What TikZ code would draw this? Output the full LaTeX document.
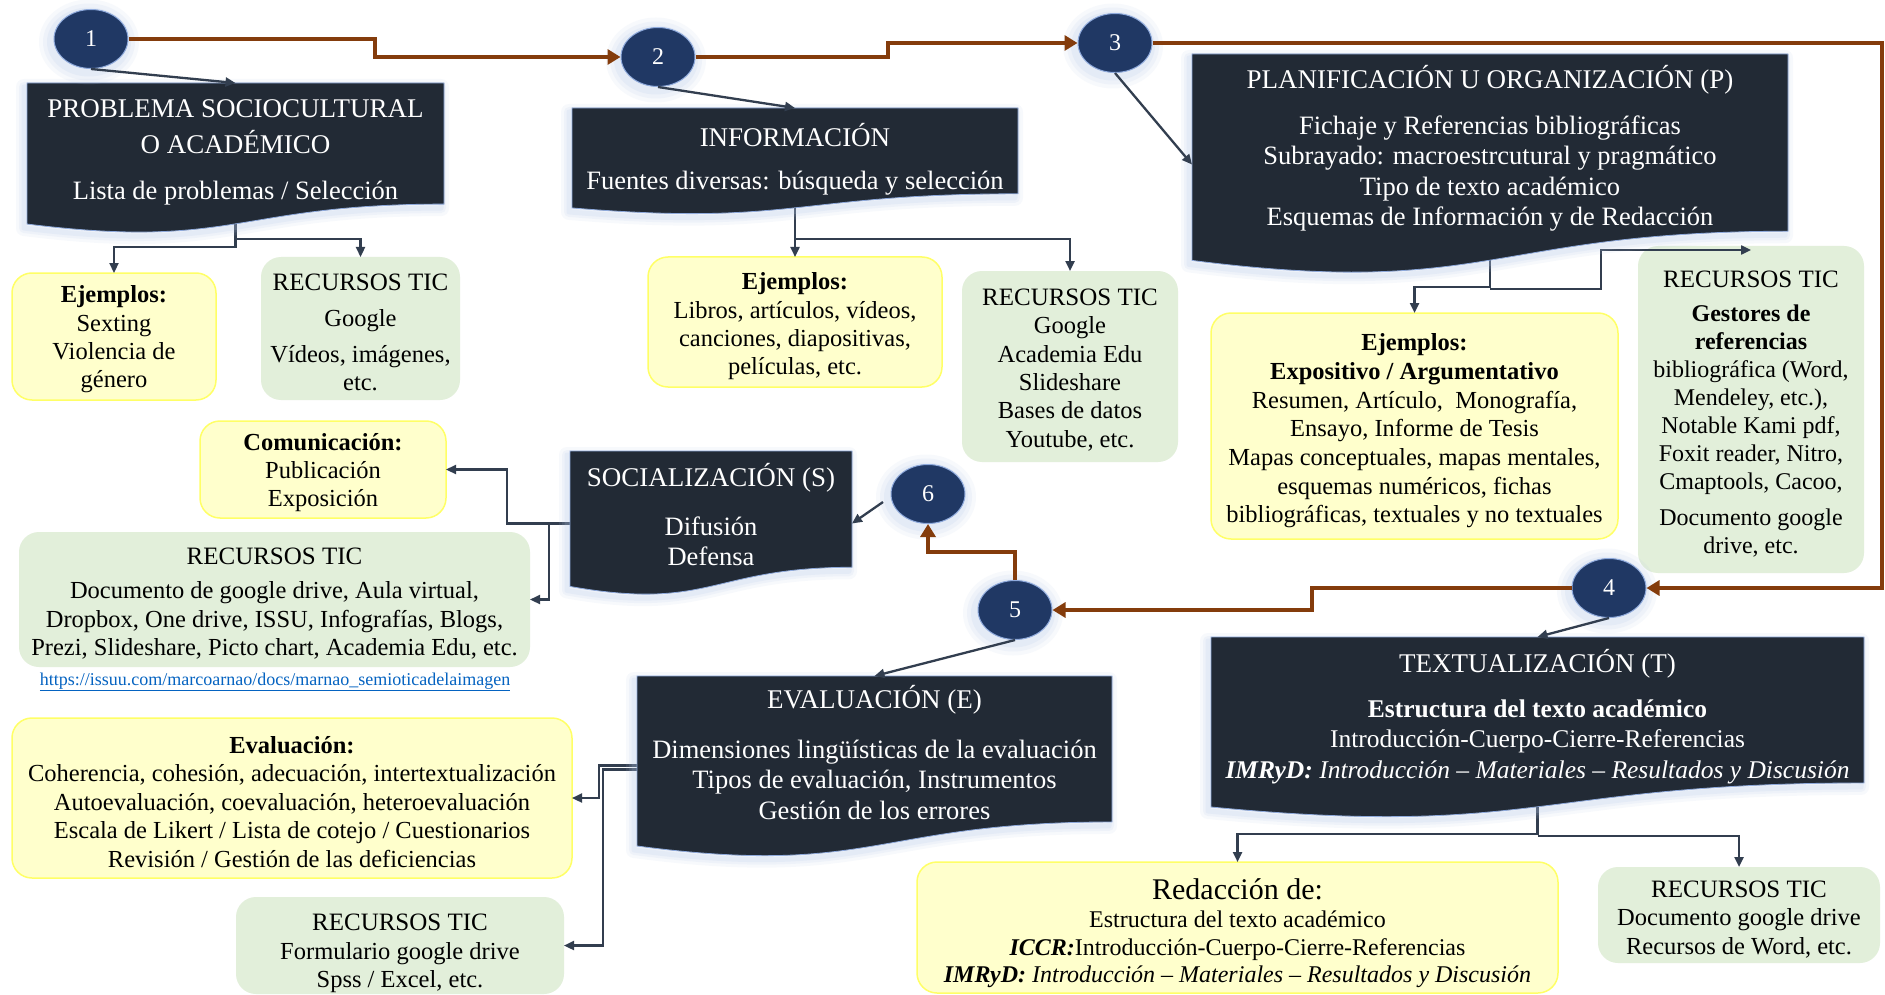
\documentclass[tikz,border=0pt]{standalone}
\usepackage{fontspec}
\setmainfont{Liberation Serif}
\usetikzlibrary{shapes.geometric,arrows.meta}

\definecolor{darkbox}{HTML}{222A35}
\definecolor{navy}{HTML}{203864}
\definecolor{rim}{HTML}{8FAADC}
\definecolor{brownline}{HTML}{843C0C}
\definecolor{slate}{HTML}{323E4F}
\definecolor{paleyellow}{HTML}{FFFFCC}
\definecolor{yellowedge}{HTML}{FFFF66}
\definecolor{palegreen}{HTML}{E2EFDA}
\definecolor{linkblue}{HTML}{0563C1}
\definecolor{haze}{HTML}{B4C7E7}

\pgfdeclarelayer{lightL}
\pgfdeclarelayer{connL}
\pgfdeclarelayer{front}
\pgfsetlayers{lightL,connL,main,front}

\newcommand\fsz[2]{\fontsize{#1}{#2}\selectfont}

% dark "document" box: name, left, top, width, height (wavy bottom edge)
\newcommand\docbox[5]{%
  \pgfmathsetmacro\bxR{#2+#4}%
  \pgfmathsetmacro\bxM{#2+0.5*#4}%
  \pgfmathsetmacro\bxYr{#3+0.802*#5}%
  \pgfmathsetmacro\bxYl{#3+0.934*#5}%
  \pgfmathsetmacro\bxYc{#3+1.107*#5}%
  \pgfmathsetmacro\bxYm{#3+0.5*#5}%
  \def\bxpath{(#2,#3) -- (\bxR,#3) -- (\bxR,\bxYr) .. controls (\bxM,\bxYr) and (\bxM,\bxYc) .. (#2,\bxYl) -- cycle}%
  \node[boxframe, minimum width=#4, minimum height=#5] (#1) at (\bxM,\bxYm) {};
  \begin{scope}[shift={(-3,4)}]
    \foreach \gw/\go in {16/0.10,10/0.12,5/0.16}
      \draw[haze, line width=\gw, opacity=\go, line join=round] \bxpath;
  \end{scope}
  \fill[darkbox] \bxpath;
  \draw[rim, line width=0.8] \bxpath;
}

% numbered step marker with a soft halo: name, x, y, label
\newcommand\stepmark[4]{%
  \foreach \gk/\go in {13/0.10,9/0.13,5/0.16}
    \fill[haze, opacity=\go] (#2-2,#3+3) ellipse [x radius=37+\gk, y radius=29.5+\gk];
  \node[stepcirc] (#1) at (#2,#3) {#4};
}

\tikzset{
  boxframe/.style={rectangle, draw=none, fill=none, inner sep=0, outer sep=0},
  ybox/.style={rectangle, rounded corners=20pt, fill=paleyellow, draw=yellowedge, line width=1.5pt, inner sep=0, outer sep=0},
  gbox/.style={rectangle, rounded corners=20pt, fill=palegreen, draw=none, inner sep=0, outer sep=0},
  ltext/.style={align=center, inner sep=0, yshift=-2pt, text=black, font=\fsz{24.5}{28.4}},
  lhead/.style={align=center, inner sep=0, yshift=-2pt, text=black, font=\fsz{25}{28}},
  dtitle/.style={align=center, inner sep=0, yshift=-2pt, text=white, font=\fsz{27}{36}},
  dbody/.style={align=center, inner sep=0, yshift=-3pt, text=white, font=\fsz{26.5}{30.3}},
  stepcirc/.style={ellipse, fill=navy, draw=rim, line width=1pt, minimum width=74, minimum height=59, inner sep=0, text=white, font=\fsz{24}{24}},
  conn/.style={draw=slate, line width=2.3pt, -{Triangle[length=10pt,width=9pt]}},
  flow/.style={draw=brownline, line width=4.5pt, -{Triangle[length=13pt,width=15pt]}},
}

\begin{document}
\begin{tikzpicture}[x=1pt, y=-1pt]
\useasboundingbox (0,0) rectangle (1885,995);

% ---------- light boxes ----------
\begin{pgfonlayer}{lightL}
  \fill[white] (0,0) rectangle (1885,995);

  \node[ybox, minimum width=204, minimum height=127] (ej1) at (114,336.5) {};
  \node[ltext] (ej1t) at (114,337.5) {\textbf{Ejemplos:}\\Sexting\\Violencia de\\género};

  \node[gbox, minimum width=199, minimum height=143] (tic1) at (360.5,328.5) {};
  \node[lhead] (tic1h) at (360.5,280) {RECURSOS TIC};
  \node[ltext, font=\fsz{24.5}{28}] (tic1t) at (360.5,348) {Google\\[8pt]Vídeos, imágenes,\\etc.};

  \node[ybox, minimum width=294, minimum height=130] (ej2) at (795,322) {};
  \node[ltext] (ej2t) at (795,324.5) {\textbf{Ejemplos:}\\Libros, artículos, vídeos,\\canciones, diapositivas,\\películas, etc.};

  \node[gbox, minimum width=216, minimum height=191] (tic2) at (1070,366.5) {};
  \node[ltext] (tic2t) at (1070,368) {{\fsz{25}{28.4}RECURSOS TIC}\\Google\\Academia Edu\\Slideshare\\Bases de datos\\Youtube, etc.};

  \node[ybox, minimum width=407, minimum height=226] (ej3) at (1414.5,426) {};
  \node[ltext, font=\fsz{24.5}{28.7}] (ej3t) at (1414.5,429) {\textbf{Ejemplos:}\\\textbf{Expositivo / Argumentativo}\\Resumen, Artículo,\ \ Monografía,\\Ensayo, Informe de Tesis\\Mapas conceptuales, mapas mentales,\\esquemas numéricos, fichas\\bibliográficas, textuales y no textuales};

  \node[gbox, minimum width=226, minimum height=327] (tic3) at (1751,409.5) {};
  \node[lhead] (tic3h) at (1751,277) {RECURSOS TIC};
  \node[ltext, font=\fsz{24}{28}] (tic3t) at (1751,429) {\textbf{Gestores de}\\\textbf{referencias}\\bibliográfica (Word,\\Mendeley, etc.),\\Notable Kami pdf,\\Foxit reader, Nitro,\\Cmaptools, Cacoo,\\[8pt]Documento google\\drive, etc.};

  \node[ybox, minimum width=246, minimum height=97] (ej4) at (323,469.5) {};
  \node[ltext, font=\fsz{24.5}{28}] (ej4t) at (323,471) {\textbf{Comunicación:}\\Publicación\\Exposición};

  \node[gbox, minimum width=511, minimum height=135] (tic4) at (274.5,599.5) {};
  \node[lhead] (tic4h) at (274.5,554) {RECURSOS TIC};
  \node[ltext, font=\fsz{24.5}{28.5}] (tic4t) at (274.5,618.5) {Documento de google drive, Aula virtual,\\Dropbox, One drive, ISSU, Infografías, Blogs,\\Prezi, Slideshare, Picto chart, Academia Edu, etc.};

  \node[inner sep=0, yshift=-2pt, text=linkblue, font=\fsz{18}{20}] (link) at (275,680) {\underline{https://issuu.com/marcoarnao/docs/marnao\_semioticadelaimagen}};

  \node[ybox, minimum width=560, minimum height=160] (ej5) at (292,798) {};
  \node[ltext, font=\fsz{24.5}{28.5}] (ej5t) at (292,800) {\textbf{Evaluación:}\\Coherencia, cohesión, adecuación, intertextualización\\Autoevaluación, coevaluación, heteroevaluación\\Escala de Likert / Lista de cotejo / Cuestionarios\\Revisión / Gestión de las deficiencias};

  \node[gbox, minimum width=328, minimum height=97] (tic5) at (400,945.5) {};
  \node[lhead] (tic5h) at (400,920) {RECURSOS TIC};
  \node[ltext, font=\fsz{24.5}{28}] (tic5t) at (400,966) {Formulario google drive\\Spss / Excel, etc.};

  \node[ybox, minimum width=641, minimum height=131] (ej6) at (1237.5,927.5) {};
  \node[lhead, font=\fsz{30}{30}] (ej6h) at (1237.5,887) {Redacción de:};
  \node[ltext, font=\fsz{24}{27.5}] (ej6t) at (1237.5,947.5) {Estructura del texto académico\\\textbf{\textit{ICCR:}}Introducción-Cuerpo-Cierre-Referencias\\\textbf{\textit{IMRyD:}}\textit{ Introducción – Materiales – Resultados y Discusión}};

  \node[gbox, minimum width=282, minimum height=96] (tic6) at (1739,915) {};
  \node[lhead] (tic6h) at (1739,887) {RECURSOS TIC};
  \node[ltext, font=\fsz{24.5}{29}] (tic6t) at (1739,931.5) {Documento google drive\\Recursos de Word, etc.};
\end{pgfonlayer}

% ---------- dark process boxes ----------
\docbox{prob}{27}{83}{417}{151}
\node[dtitle] (probT) at (235.5,125) {PROBLEMA SOCIOCULTURAL\\O ACADÉMICO};
\node[dbody] (probB) at (235.5,190) {Lista de problemas / Selección};

\docbox{info}{572}{108}{446}{107}
\node[dtitle] (infoT) at (795,133) {INFORMACIÓN};
\node[dbody] (infoB) at (795,180) {Fuentes diversas: búsqueda y selección};

\docbox{plan}{1192}{54}{596}{221}
\node[dtitle] (planT) at (1490,78) {PLANIFICACIÓN U ORGANIZACIÓN (P)};
\node[dbody] (planB) at (1490,170.5) {Fichaje y Referencias bibliográficas\\Subrayado: macroestrcutural y pragmático\\Tipo de texto académico\\Esquemas de Información y de Redacción};

\docbox{soc}{570}{451}{282}{145}
\node[dtitle] (socT) at (711,476) {SOCIALIZACIÓN (S)};
\node[dbody, font=\fsz{26.5}{30}] (socB) at (711,538) {Difusión\\Defensa};

\docbox{eval}{637}{676}{475}{182}
\node[dtitle] (evalT) at (874.5,698) {EVALUACIÓN (E)};
\node[dbody, font=\fsz{26.5}{30.5}] (evalB) at (874.5,776.5) {Dimensiones lingüísticas de la evaluación\\Tipos de evaluación, Instrumentos\\Gestión de los errores};

\docbox{text}{1211}{637}{653}{182}
\node[dtitle] (textT) at (1537.5,662) {TEXTUALIZACIÓN (T)};
\node[dbody, font=\fsz{25.5}{30.5}] (textB) at (1537.5,738.5) {\textbf{Estructura del texto académico}\\Introducción-Cuerpo-Cierre-Referencias\\\textbf{\textit{IMRyD:}}\textit{ Introducción – Materiales – Resultados y Discusión}};

% ---------- box-to-box connectors ----------
\begin{pgfonlayer}{connL}
  \draw[conn] (prob.center) -- (prob.center |- 0,247) -| (ej1.north);
  \draw[conn] (prob.center |- 0,239) -| (tic1.north);
  \draw[conn] (info.center) -- (ej2.north);
  \draw[conn] (info.center |- 0,239) -| (tic2.north);
  \draw[conn] (plan.center) -- (plan.center |- 0,287) -| (ej3.north);
  \draw[conn] (plan.center |- 0,289) -- (1601,289) -- (1601,250) -- (tic3.north |- 0,250);
  \draw[conn] (soc.west) -- (soc.west -| 507,0) |- (ej4.east);
  \draw[conn] (soc.west -| 549,0) |- (tic4.east);
  \draw[conn] ([yshift=1.5pt]eval.west) -- ([yshift=1.5pt]eval.west -| 599,0) |- (ej5.east);
  \draw[conn] ([yshift=-2.5pt]eval.west) -- ([yshift=-2.5pt]eval.west -| 603,0) |- (tic5.east);
  \draw[conn] (text.center) -- (text.center |- 0,834) -| (ej6.north);
  \draw[conn] (text.center |- 0,836) -| (tic6.north);
\end{pgfonlayer}

% ---------- numbered steps and the main flow ----------
\begin{pgfonlayer}{front}
  \stepmark{c1}{91}{39}{1}
  \stepmark{c2}{658}{57}{2}
  \stepmark{c3}{1115}{43}{3}
  \stepmark{c4}{1609}{588}{4}
  \stepmark{c5}{1015}{610}{5}
  \stepmark{c6}{928}{494}{6}

  \draw[flow] (c1.east) -- (c1.east -| 375,0) |- (c2.west);
  \draw[flow] (c2.east) -- (c2.east -| 888,0) |- (c3.west);
  \draw[flow] (c3.east) -- (c3.east -| 1882,0) |- (c4.east);
  \draw[flow] (c4.west) -- (c4.west -| 1312,0) |- (c5.east);
  \draw[flow] (c5.north) -- (c5.north |- 0,552) -| (c6.south);

  \coordinate (c6tail) at (883,502);
  \draw[conn] (c1.south) -- (prob.north);
  \draw[conn] (c2.south) -- (info.north);
  \draw[conn] (c3.south) -- (plan.west);
  \draw[conn] (c4.south) -- (text.north);
  \draw[conn] (c5.south) -- (eval.north);
  \draw[conn] (c6tail) -- (soc.east);
\end{pgfonlayer}
\end{tikzpicture}
\end{document}
